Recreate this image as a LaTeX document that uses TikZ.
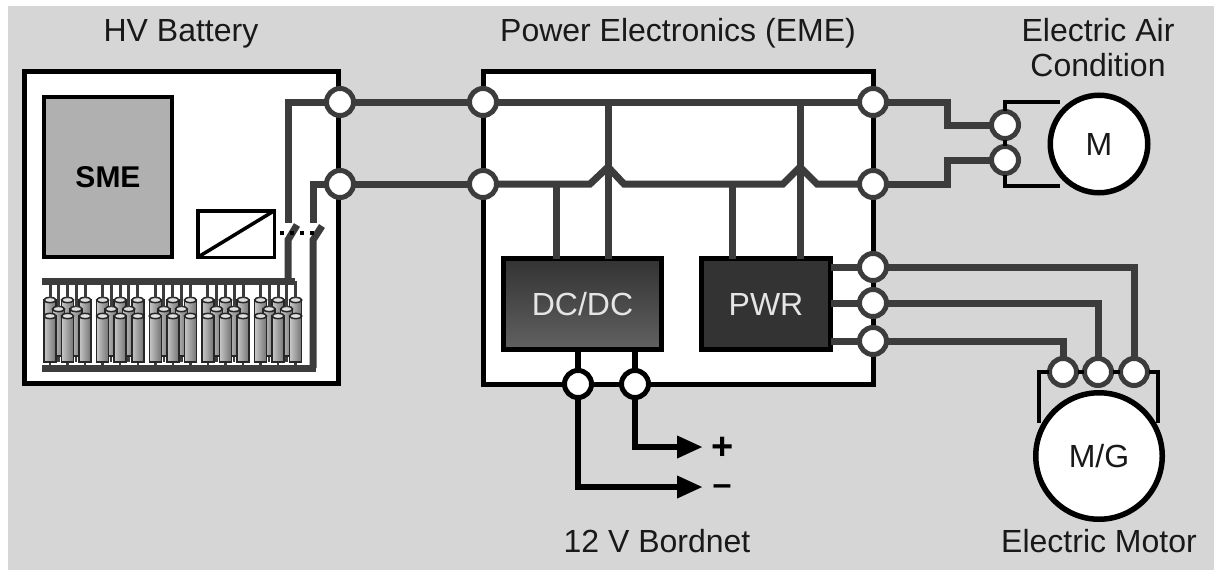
\documentclass[tikz,border=0pt]{standalone}
\usepackage{fontspec}
\setmainfont{Liberation Sans}
\usetikzlibrary{arrows.meta}
\newlength{\du}
\setlength{\du}{1pt}
\definecolor{wirecolor}{rgb}{0.235, 0.235, 0.235}
\definecolor{backcolor}{rgb}{0.839, 0.839, 0.839}
\definecolor{smecolor}{rgb}{0.690, 0.690, 0.690}
\tikzset{
  caption/.style={inner sep=0pt, font=\fontsize{32}{34}\selectfont, text=black!90},
  unit/.style={draw=black, fill=white, line width=5\du},
  terminal/.style={circle, draw=wirecolor, fill=white, line width=5\du, minimum size=27\du, inner sep=0pt, outer sep=1\du},
  terminalb/.style={terminal, draw=black},
  bus/.style={draw=wirecolor, line width=7\du},
  framewire/.style={draw=black, line width=4.5\du},
  outwire/.style={draw=black, line width=6.5\du, -{Triangle[length=26pt,width=21pt]}},
  motor/.style={circle, draw=black, fill=white, line width=5.5\du, outer sep=0pt, caption},
  module/.style={draw=black, line width=4.6\du, inner sep=0pt, outer sep=0pt, text=white!90!black, font=\fontsize{32}{34}\selectfont},
}
\newcommand{\battcell}[3]{
\draw[wirecolor, line width=2.5\du] (#1\du,#3\du)--(#1\du,#3\du+6\du);
\draw[black!85, line width=1.5\du, left color=black!22, middle color=black!3, right color=black!55] (#1\du-6\du,#2\du+2\du) rectangle (#1\du+6\du,#3\du);
\draw[black!85, line width=1.5\du, fill=black!12] (#1\du,#2\du+2\du) ellipse [x radius=6\du, y radius=2.6\du];
}
\begin{document}
\begin{tikzpicture}
\pgftransformxscale{1.000000}
\pgftransformyscale{-1.000000}
\useasboundingbox (0\du,0\du) rectangle (1214\du,570\du);
\fill[white] (0\du,0\du) rectangle (1214\du,570\du);
\fill[backcolor] (8\du,6\du) rectangle (1214\du,570\du);
% boxes
\draw[unit] (24\du,71\du) rectangle (338\du,383\du);
\draw[unit] (483\du,71\du) rectangle (873\du,384\du);
\node[draw=black, fill=smecolor, line width=4\du, minimum width=128\du, minimum height=160\du, inner sep=0pt, outer sep=0pt, font=\fontsize{30}{32}\selectfont\bfseries] (sme) at (108\du,177\du) {SME};
\node[draw=black, fill=white, line width=3.5\du, minimum width=76.500000\du, minimum height=46.500000\du, inner sep=0pt, outer sep=0pt] (relay) at (236\du,234\du) {};
\draw[black, line width=3.5\du] (relay.south west)--(relay.north east);
\node[module, top color=black!80, bottom color=black!62, minimum width=158\du, minimum height=91\du] (dcdc) at (582.500000\du,304\du) {DC/DC};
\node[module, fill=black!80, minimum width=129\du, minimum height=91\du] (pwr) at (766\du,304\du) {PWR};
% cells
\foreach \i in {0,...,14} {
  \battcell{\fpeval{50+17.55*\i}}{298}{352}
  \draw[wirecolor, line width=3\du] ({(50+17.55*\i)*1pt},281\du)--({(50+17.55*\i)*1pt},298\du);
}
\foreach \i in {0,1,3,4,6,7,9,10,12,13} {
  \battcell{\fpeval{58.5+17.55*\i}}{307}{356}
  \draw[wirecolor, line width=3\du] ({(58.5+17.55*\i)*1pt},281\du)--({(58.5+17.55*\i)*1pt},307\du);
}
\foreach \i in {0,...,14} {
  \battcell{\fpeval{50+17.55*\i}}{314}{362}
}
% terminals
\node[terminal] (battop) at (340\du,102\du) {};
\node[terminal] (batbot) at (340\du,184\du) {};
\node[terminal] (emetop) at (483\du,102\du) {};
\node[terminal] (emebot) at (483\du,184\du) {};
\node[terminal] (acouta) at (873\du,102\du) {};
\node[terminal] (acoutb) at (873\du,184\du) {};
\node[terminal] (pwrouta) at (873\du,267\du) {};
\node[terminal] (pwroutb) at (873\du,303\du) {};
\node[terminal] (pwroutc) at (873\du,341\du) {};
\node[terminal] (acina) at (1005\du,125\du) {};
\node[terminal] (acinb) at (1005\du,160\du) {};
\node[terminal] (mgina) at (1063\du,372\du) {};
\node[terminal] (mginb) at (1098\du,372\du) {};
\node[terminal] (mginc) at (1134\du,372\du) {};
\node[terminalb] (dcmin) at (578\du,384\du) {};
\node[terminalb] (dcpos) at (635\du,384\du) {};
% battery wiring
\coordinate (railtopl) at (42\du,281\du);
\coordinate (railtopr) at (295\du,281\du);
\coordinate (railbotl) at (42\du,368\du);
\coordinate (railbotr) at (316\du,368\du);
\draw[bus] (railtopl)--(railtopr);
\draw[bus] (railbotl)--(railbotr);
\coordinate (swaup) at (288\du,223\du);
\coordinate (swalow) at (288\du,240\du);
\coordinate (swatip) at (297\du,225\du);
\coordinate (swbup) at (313\du,223\du);
\coordinate (swblow) at (313\du,240\du);
\coordinate (swbtip) at (322\du,226\du);
\coordinate (swarail) at (288\du,281\du);
\coordinate (swbrail) at (313\du,368\du);
\draw[bus] (battop) -| (swaup);
\draw[bus] (batbot) -| (swbup);
\draw[bus] (swarail)--(swalow)--(swatip);
\draw[bus] (swbrail)--(swblow)--(swbtip);
\draw[black, line width=4\du, dash pattern=on 4\du off 6\du] (280\du,233\du)--(318\du,233\du);
% main bus
\draw[bus] (battop)--(emetop);
\draw[bus] (batbot)--(emebot);
\draw[bus] (emetop)--(acouta);
\coordinate (hopa) at (608\du,167\du);
\coordinate (hopb) at (800\du,167\du);
\draw[bus] (emebot)--(590\du,184\du)--(hopa)--(624\du,184\du)--(783\du,184\du)--(hopb)--(817\du,184\du)--(acoutb);
\coordinate (dctapa) at (556\du,184\du);
\coordinate (dctapb) at (608\du,102\du);
\coordinate (pwrtapa) at (732\du,184\du);
\coordinate (pwrtapb) at (800\du,102\du);
\draw[bus] (dctapa)--(dctapa |- dcdc.north);
\draw[bus] (dctapb)--(dctapb |- dcdc.north);
\draw[bus] (pwrtapa)--(pwrtapa |- pwr.north);
\draw[bus] (pwrtapb)--(pwrtapb |- pwr.north);
% motor wiring
\coordinate (acbenda) at (947\du,125\du);
\coordinate (acbendb) at (947\du,160\du);
\draw[bus] (acouta) -| (acbenda)--(acina);
\draw[bus] (acoutb) -| (acbendb)--(acinb);
\draw[bus] (pwr.east |- pwrouta)--(pwrouta);
\draw[bus] (pwr.east |- pwroutb)--(pwroutb);
\draw[bus] (pwr.east |- pwroutc)--(pwroutc);
\draw[bus] (pwrouta) -| (mginc);
\draw[bus] (pwroutb) -| (mginb);
\draw[bus] (pwroutc) -| (mgina);
\coordinate (acfrtop) at (1060\du,102\du);
\coordinate (acfrbot) at (1060\du,186\du);
\draw[framewire] (acfrtop) -| (acina);
\draw[framewire] (acfrbot) -| (acinb);
\draw[framewire] (acina)--(acinb);
\coordinate (mgfrl) at (1039\du,423\du);
\coordinate (mgfrr) at (1158\du,423\du);
\draw[framewire] (mgfrl) |- (mgina);
\draw[framewire] (mgfrr) |- (mginc);
\draw[framewire] (mgina)--(mginb);
\draw[framewire] (mginb)--(mginc);
\node[motor, minimum size=97.500000\du] (motorac) at (1099\du,144\du) {M};
\node[motor, minimum size=126.500000\du] (motormg) at (1099\du,456\du) {M/G};
% 12 V outputs
\draw[black, line width=6\du] (dcmin)--(dcdc.south -| dcmin);
\draw[black, line width=6\du] (dcpos)--(dcdc.south -| dcpos);
\node[inner sep=0pt, font=\fontsize{38}{38}\selectfont\bfseries] (plus) at (723\du,448\du) {+};
\node[inner sep=0pt, font=\fontsize{34}{34}\selectfont\bfseries] (minus) at (722\du,490\du) {\textendash};
\draw[outwire] (dcpos) |- (703\du,447\du);
\draw[outwire] (dcmin) |- (703\du,487\du);
% titles
\node[caption] (hvbat) at (181\du,34\du) {HV Battery};
\node[caption] (eme) at (678\du,33\du) {Power Electronics (EME)};
\node[caption] (aira) at (1098\du,30\du) {Electric Air};
\node[caption] (airb) at (1098\du,65\du) {Condition};
\node[caption] (bordnet) at (657\du,541\du) {12 V Bordnet};
\node[caption] (emotor) at (1099\du,541\du) {Electric Motor};
\end{tikzpicture}
\end{document}
